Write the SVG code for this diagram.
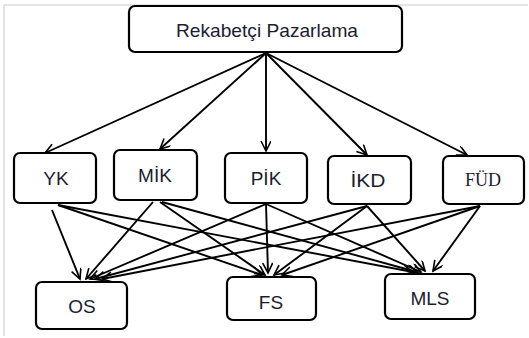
<svg xmlns="http://www.w3.org/2000/svg" width="529" height="338" viewBox="0 0 529 338">
<defs>
<style>
.box{fill:#fff;stroke:#000;stroke-width:2.2}
.t{font-family:"Liberation Sans",Arial,sans-serif;font-size:19px;fill:#1c1c30;text-anchor:middle}
.ts{font-family:"Liberation Serif","Times New Roman",serif;font-size:18px;fill:#1c1c30;text-anchor:middle}
.c line{stroke:#000;stroke-width:1.9;marker-end:url(#ah)}
</style>
<marker id="ah" markerUnits="userSpaceOnUse" markerWidth="14" markerHeight="14" refX="11" refY="5" orient="auto">
<path d="M1,0 L11,5 L1,10" fill="none" stroke="#000" stroke-width="1.6"/>
</marker>
</defs>
<rect width="529" height="338" fill="#fff"/>
<path d="M4,336 V5 H528" fill="none" stroke="#dcdcdc" stroke-width="1.5"/>
<g class="c" id="connectors">
<line x1="266" y1="53" x2="45" y2="153"/>
<line x1="266" y1="53" x2="160" y2="149"/>
<line x1="266" y1="53" x2="266" y2="151"/>
<line x1="266" y1="53" x2="367" y2="155"/>
<line x1="266" y1="53" x2="467" y2="155"/>
<line x1="52" y1="210" x2="80" y2="279"/>
<line x1="58" y1="205" x2="262" y2="275"/>
<line x1="58" y1="205" x2="413" y2="272"/>
<line x1="153" y1="202" x2="86" y2="279"/>
<line x1="160" y1="202" x2="265" y2="275"/>
<line x1="162" y1="202" x2="417" y2="272"/>
<line x1="266" y1="204" x2="90" y2="279"/>
<line x1="266" y1="204" x2="268" y2="273"/>
<line x1="266" y1="204" x2="421" y2="272"/>
<line x1="367" y1="206" x2="95" y2="279"/>
<line x1="367" y1="206" x2="274" y2="275"/>
<line x1="367" y1="206" x2="425" y2="271"/>
<line x1="480" y1="206" x2="102" y2="279"/>
<line x1="480" y1="206" x2="282" y2="275"/>
<line x1="480" y1="206" x2="433" y2="271"/>
</g>
<g id="rekabetci">
<rect class="box" x="129" y="6" width="273" height="46" rx="6"/>
<text class="t" x="267" y="37" font-size="17" textLength="182" lengthAdjust="spacingAndGlyphs">Rekabetçi Pazarlama</text>
</g>
<g id="yk">
<rect class="box" x="14" y="153" width="82" height="50" rx="6"/>
<text class="t" x="56" y="185">YK</text>
</g>
<g id="mik">
<rect class="box" x="114" y="150" width="83" height="50" rx="6"/>
<text class="t" x="155" y="182">MİK</text>
</g>
<g id="pik">
<rect class="box" x="225" y="153" width="82" height="50" rx="6"/>
<text class="t" x="266" y="185">PİK</text>
</g>
<g id="ikd">
<rect class="box" x="328" y="156" width="83" height="48" rx="6"/>
<text class="t" x="368" y="187" textLength="35" lengthAdjust="spacingAndGlyphs">İKD</text>
</g>
<g id="fud">
<rect class="box" x="443" y="156" width="81" height="48" rx="6"/>
<text class="ts" x="483" y="186">FÜD</text>
</g>
<g id="os">
<rect class="box" x="36" y="282" width="91" height="47" rx="6"/>
<text class="t" x="82" y="313">OS</text>
</g>
<g id="fs">
<rect class="box" x="227" y="277" width="89" height="43" rx="6"/>
<text class="t" x="271" y="309">FS</text>
</g>
<g id="mls">
<rect class="box" x="385" y="274" width="90" height="45" rx="6"/>
<text class="t" x="430" y="305">MLS</text>
</g>
</svg>
